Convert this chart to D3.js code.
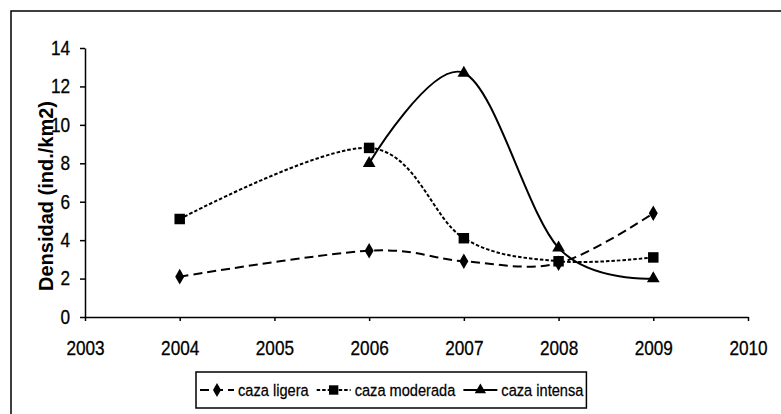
<!DOCTYPE html>
<meta charset="utf-8">
<style>

    body {
        margin: 0;
        background: #fff;
    }

    text {
        fill: #000;
        font-family: "Liberation Sans", Arial, sans-serif;
    }

    .axis path, .axis line {
        stroke: #000;
        stroke-width: 1.5;
    }

    .axis text {
        font-size: 20px;
        stroke: #000;
        stroke-width: 0.3;
    }

    path.line {
        fill: none;
        stroke: #000;
        stroke-width: 2;
    }

</style>
<body>
<script src="https://cdn.jsdelivr.net/npm/d3@7"></script>
<script>

    var years = [2004, 2006, 2007, 2008, 2009];
    var ligera = [2.1, 3.45, 2.9, 2.8, 5.4];
    var moderada = [5.1, 8.8, 4.1, 2.9, 3.1];
    var intensaYears = [2006, 2007, 2008, 2009];
    var intensa = [8.0, 12.7, 3.6, 2.0];
    var xTicks = [2003, 2004, 2005, 2006, 2007, 2008, 2009, 2010];
    var yTicks = [0, 2, 4, 6, 8, 10, 12, 14];
    var seriesNames = ["caza ligera", "caza moderada", "caza intensa"];

    var width = 781, height = 414;
    var narrow = 0.86; // scan uses a condensed face, squeeze the text to match

    var svg = d3.select("body").append("svg")
            .attr("width", width)
            .attr("height", height);

    // outer frame, runs off the right and bottom edges like the scan
    svg.append("rect")
            .attr("x", 11)
            .attr("y", 11)
            .attr("width", 800)
            .attr("height", 430)
            .attr("fill", "none")
            .attr("stroke", "#000")
            .attr("stroke-width", 1.5);

    var x = d3.scaleLinear()
            .domain([2003, 2010])
            .range([85, 748]);

    var y = d3.scaleLinear()
            .domain([0, 14])
            .range([317, 48]);

    var xAxis = d3.axisBottom(x)
            .tickValues(xTicks)
            .tickFormat(d3.format("d"))
            .tickSize(4)
            .tickPadding(20)
            .tickSizeOuter(0);

    var yAxis = d3.axisLeft(y)
            .tickValues(yTicks)
            .tickSize(5)
            .tickPadding(10)
            .tickSizeOuter(0);

    svg.append("g")
            .attr("class", "x axis")
            .attr("transform", "translate(0," + y(0) + ")")
            .call(xAxis)
            .selectAll("text")
            .attr("transform", "scale(" + narrow + ",1)");

    var gy = svg.append("g")
            .attr("class", "y axis")
            .attr("transform", "translate(" + x(2003) + ",0)")
            .call(yAxis);
    gy.selectAll("text")
            .attr("x", -15 / narrow)
            .attr("transform", "scale(" + narrow + ",1)");

    svg.append("text")
            .attr("transform", "translate(53,196) rotate(-90)")
            .style("text-anchor", "middle")
            .style("font-size", "20px")
            .style("font-weight", "bold")
            .text("Densidad (ind./km2)");

    var line = d3.line()
            .x(function(d) { return x(d[0]); })
            .y(function(d) { return y(d[1]); })
            .curve(d3.curveCatmullRom.alpha(0));

    var series = [
        {name: seriesNames[0], data: d3.zip(years, ligera), dash: "9,5", marker: d3.symbolDiamond, size: 70},
        {name: seriesNames[1], data: d3.zip(years, moderada), dash: "3.5,2", marker: d3.symbolSquare, size: 110},
        {name: seriesNames[2], data: d3.zip(intensaYears, intensa), dash: null, marker: d3.symbolTriangle, size: 70}
    ];

    series.forEach(function(s) {
        svg.append("path")
                .datum(s.data)
                .attr("class", "line")
                .attr("stroke-dasharray", s.dash)
                .attr("d", line);

        svg.selectAll(null)
                .data(s.data)
                .enter().append("path")
                .attr("transform", function(d) { return "translate(" + x(d[0]) + "," + y(d[1]) + ")"; })
                .attr("d", d3.symbol().type(s.marker).size(s.size))
                .attr("fill", "#000");
    });

    // legend, items laid out from their text widths
    var legend = svg.append("g");
    var box = legend.append("rect")
            .attr("y", 372)
            .attr("height", 36)
            .attr("fill", "#fff")
            .attr("stroke", "#000")
            .attr("stroke-width", 1.5);

    var lx = 196, cx = lx + 4;
    series.forEach(function(s, i) {
        var g = legend.append("g").attr("transform", "translate(" + cx + ",390)");
        g.append("line")
                .attr("x1", 0).attr("x2", 34)
                .attr("stroke", "#000")
                .attr("stroke-width", 2)
                .attr("stroke-dasharray", s.dash);
        g.append("path")
                .attr("transform", "translate(17,0)")
                .attr("d", d3.symbol().type(s.marker).size(s.size * 0.8))
                .attr("fill", "#000");
        var t = g.append("text")
                .attr("transform", "translate(38,0) scale(" + narrow + ",1)")
                .attr("dy", "0.35em")
                .style("font-size", "17px")
                .style("stroke", "#000")
                .style("stroke-width", 0.25)
                .text(s.name);
        cx += 38 + t.node().getComputedTextLength() * narrow + 8;
    });
    box.attr("x", lx).attr("width", cx - 8 + 3 - lx);

</script>
